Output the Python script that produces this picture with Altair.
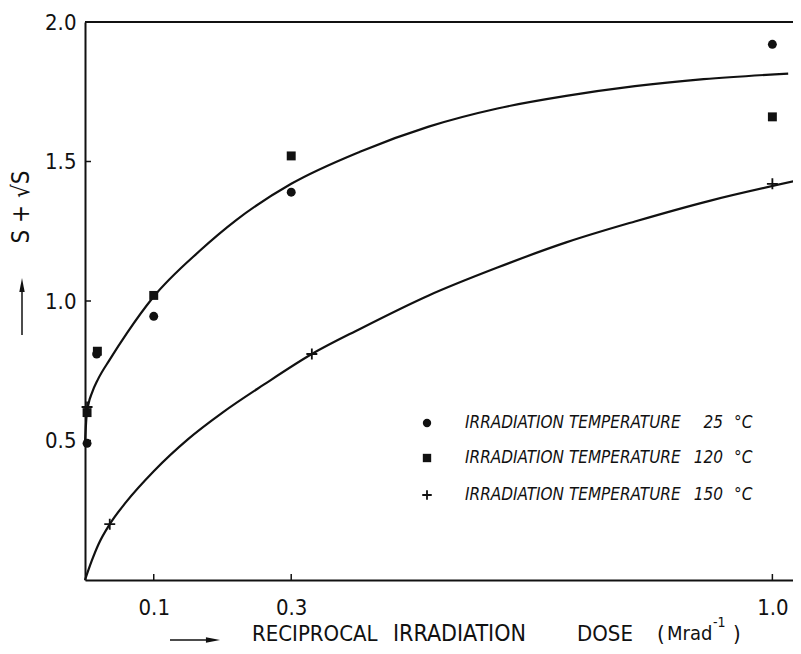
import altair as alt
import pandas as pd

# ---- data ----
upper_x = [0.0, 0.002, 0.005, 0.010, 0.019, 0.036, 0.061, 0.098, 0.167, 0.22, 0.30, 0.40, 0.50, 0.60, 0.70, 0.80, 0.90, 1.023]
upper_y = [0.49, 0.58, 0.63, 0.67, 0.72, 0.79, 0.885, 1.01, 1.18, 1.29, 1.42, 1.535, 1.625, 1.69, 1.735, 1.77, 1.795, 1.815]
lower_x = [0.0, 0.010, 0.020, 0.036, 0.060, 0.10, 0.15, 0.20, 0.26, 0.33, 0.40, 0.50, 0.60, 0.70, 0.80, 0.91, 1.033]
lower_y = [0.0, 0.07, 0.13, 0.20, 0.28, 0.39, 0.505, 0.60, 0.70, 0.81, 0.90, 1.02, 1.12, 1.21, 1.285, 1.36, 1.43]

circle_x = [0.003, 0.017, 0.10, 0.30, 1.00]
circle_y = [0.49, 0.81, 0.945, 1.39, 1.92]
square_x = [0.003, 0.018, 0.10, 0.30, 1.00]
square_y = [0.60, 0.82, 1.02, 1.52, 1.66]
plus_x = [0.003, 0.036, 0.33, 1.00]
plus_y = [0.62, 0.20, 0.81, 1.42]

x_ticks = [0.1, 0.3, 1.0]
y_ticks = [0.5, 1.0, 1.5]
y_labels = [0.5, 1.0, 1.5, 2.0]

legend_names = ["IRRADIATION  TEMPERATURE", "IRRADIATION  TEMPERATURE", "IRRADIATION  TEMPERATURE"]
legend_temps = ["25", "120", "150"]

W, H = 708, 558
INK = "#111111"
FONT = "'Liberation Sans Narrow', 'DejaVu Sans Condensed', 'Roboto Condensed', sans-serif"

curves = pd.concat([
    pd.DataFrame({"x": upper_x, "y": upper_y, "series": "upper"}),
    pd.DataFrame({"x": lower_x, "y": lower_y, "series": "lower"}),
])

xs = alt.Scale(domain=[0, 1.03], nice=False, zero=False)
ys = alt.Scale(domain=[0, 2.0], nice=False, zero=False)

xaxis = alt.Axis(values=x_ticks, format=".1f", ticks=False, grid=False, title=None,
                 labelFontSize=22, labelPadding=17, labelColor=INK, labelFont=FONT,
                 domainColor=INK, domainWidth=2)
yaxis = alt.Axis(values=y_labels, format=".1f", ticks=False, grid=False, title=None,
                 labelFontSize=22, labelPadding=9, labelColor=INK, labelFont=FONT,
                 domainColor=INK, domainWidth=2, labelBaseline="middle")

X = lambda f: alt.X(f, scale=xs, axis=xaxis)
Y = lambda f: alt.Y(f, scale=ys, axis=yaxis)

lines = alt.Chart(curves).mark_line(interpolate="monotone", color=INK, strokeWidth=2.2).encode(
    x=X("x:Q"), y=Y("y:Q"), detail="series:N")

circles = alt.Chart(pd.DataFrame({"x": circle_x, "y": circle_y})).mark_point(
    shape="circle", filled=True, color=INK, size=80, opacity=1).encode(x=X("x:Q"), y=Y("y:Q"))
squares = alt.Chart(pd.DataFrame({"x": square_x, "y": square_y})).mark_point(
    shape="square", filled=True, color=INK, size=80, opacity=1).encode(x=X("x:Q"), y=Y("y:Q"))
PLUS = "M-1,0L1,0M0,-1L0,1"
pluses = alt.Chart(pd.DataFrame({"x": plus_x, "y": plus_y})).mark_point(
    shape=PLUS, filled=False, color=INK, size=120, strokeWidth=1.8, opacity=1).encode(x=X("x:Q"), y=Y("y:Q"))

xtick_rules = alt.Chart(pd.DataFrame({"x": x_ticks})).mark_rule(color=INK, strokeWidth=1.5).encode(
    x=X("x:Q"), y=alt.value(H), y2=alt.value(H - 6))
ytick_rules = alt.Chart(pd.DataFrame({"y": y_ticks})).mark_rule(color=INK, strokeWidth=1.5).encode(
    y=Y("y:Q"), x=alt.value(0), x2=alt.value(6))
top_rule = alt.Chart(pd.DataFrame({"y": [2.0]})).mark_rule(color=INK, strokeWidth=2).encode(
    y=Y("y:Q"), x=alt.value(0), x2=alt.value(W))

# ---- legend (manual) ----
leg_rows = [401, 436, 473]
leg = []
leg.append(alt.Chart(pd.DataFrame({"a": [0]})).mark_point(shape="circle", filled=True, color=INK, size=70, opacity=1)
           .encode(x=alt.value(342), y=alt.value(leg_rows[0])))
leg.append(alt.Chart(pd.DataFrame({"a": [0]})).mark_point(shape="square", filled=True, color=INK, size=70, opacity=1)
           .encode(x=alt.value(342), y=alt.value(leg_rows[1])))
leg.append(alt.Chart(pd.DataFrame({"a": [0]})).mark_point(shape=PLUS, filled=False, color=INK, size=90, strokeWidth=1.8, opacity=1)
           .encode(x=alt.value(342), y=alt.value(leg_rows[2])))
for i in range(3):
    leg.append(alt.Chart(pd.DataFrame({"t": [legend_names[i]]})).mark_text(
        align="left", baseline="middle", fontSize=17, fontStyle="italic", font=FONT, color=INK)
        .encode(text="t:N", x=alt.value(380), y=alt.value(leg_rows[i])))
    leg.append(alt.Chart(pd.DataFrame({"t": [legend_temps[i]]})).mark_text(
        align="right", baseline="middle", fontSize=17, fontStyle="italic", font=FONT, color=INK)
        .encode(text="t:N", x=alt.value(638), y=alt.value(leg_rows[i])))
    leg.append(alt.Chart(pd.DataFrame({"t": ["°C"]})).mark_text(
        align="left", baseline="middle", fontSize=17, fontStyle="italic", font=FONT, color=INK)
        .encode(text="t:N", x=alt.value(649), y=alt.value(leg_rows[i])))

# ---- axis titles (manual) ----
def txt(s, x, y, size=22, align="left", angle=0, baseline="middle"):
    return alt.Chart(pd.DataFrame({"t": [s]})).mark_text(
        align=align, baseline=baseline, fontSize=size, font=FONT, color=INK, angle=angle
    ).encode(text="t:N", x=alt.value(x), y=alt.value(y))

titles = [
    txt("RECIPROCAL", 167, 612),
    txt("IRRADIATION", 308, 612, size=23),
    txt("DOSE", 492, 612),
    txt("(", 572, 612),
    txt("Mrad", 582, 612, size=20),
    txt("-1", 628, 601, size=14),
    txt(")", 648, 612),
    txt("S + √S", -63, 185, size=24, align="center", angle=270),
]

arrow_h = alt.Chart(pd.DataFrame({"a": [0]})).mark_rule(color=INK, strokeWidth=1.5).encode(
    x=alt.value(85), x2=alt.value(126), y=alt.value(618))
arrow_h_head = alt.Chart(pd.DataFrame({"a": [0]})).mark_point(shape="M-1,-0.38L1,0L-1,0.38Z", filled=True, color=INK, size=200, opacity=1).encode(
    x=alt.value(128), y=alt.value(618))
arrow_v = alt.Chart(pd.DataFrame({"a": [0]})).mark_rule(color=INK, strokeWidth=1.5).encode(
    x=alt.value(-63), y=alt.value(313), y2=alt.value(268))
arrow_v_head = alt.Chart(pd.DataFrame({"a": [0]})).mark_point(shape="M-0.38,1L0,-1L0.38,1Z", filled=True, color=INK, size=200, opacity=1).encode(
    x=alt.value(-63), y=alt.value(263))

chart = alt.layer(
    lines, top_rule, xtick_rules, ytick_rules, circles, squares, pluses,
    *leg, *titles, arrow_h, arrow_h_head, arrow_v, arrow_v_head
).properties(
    width=W, height=H,
    autosize=alt.AutoSizeParams(type="none"),
    padding={"left": 77, "top": 14, "right": 0, "bottom": 66},
    background="white",
).configure_view(stroke=None)

chart.save("out.html", embed_options={"renderer": "svg", "actions": False})
